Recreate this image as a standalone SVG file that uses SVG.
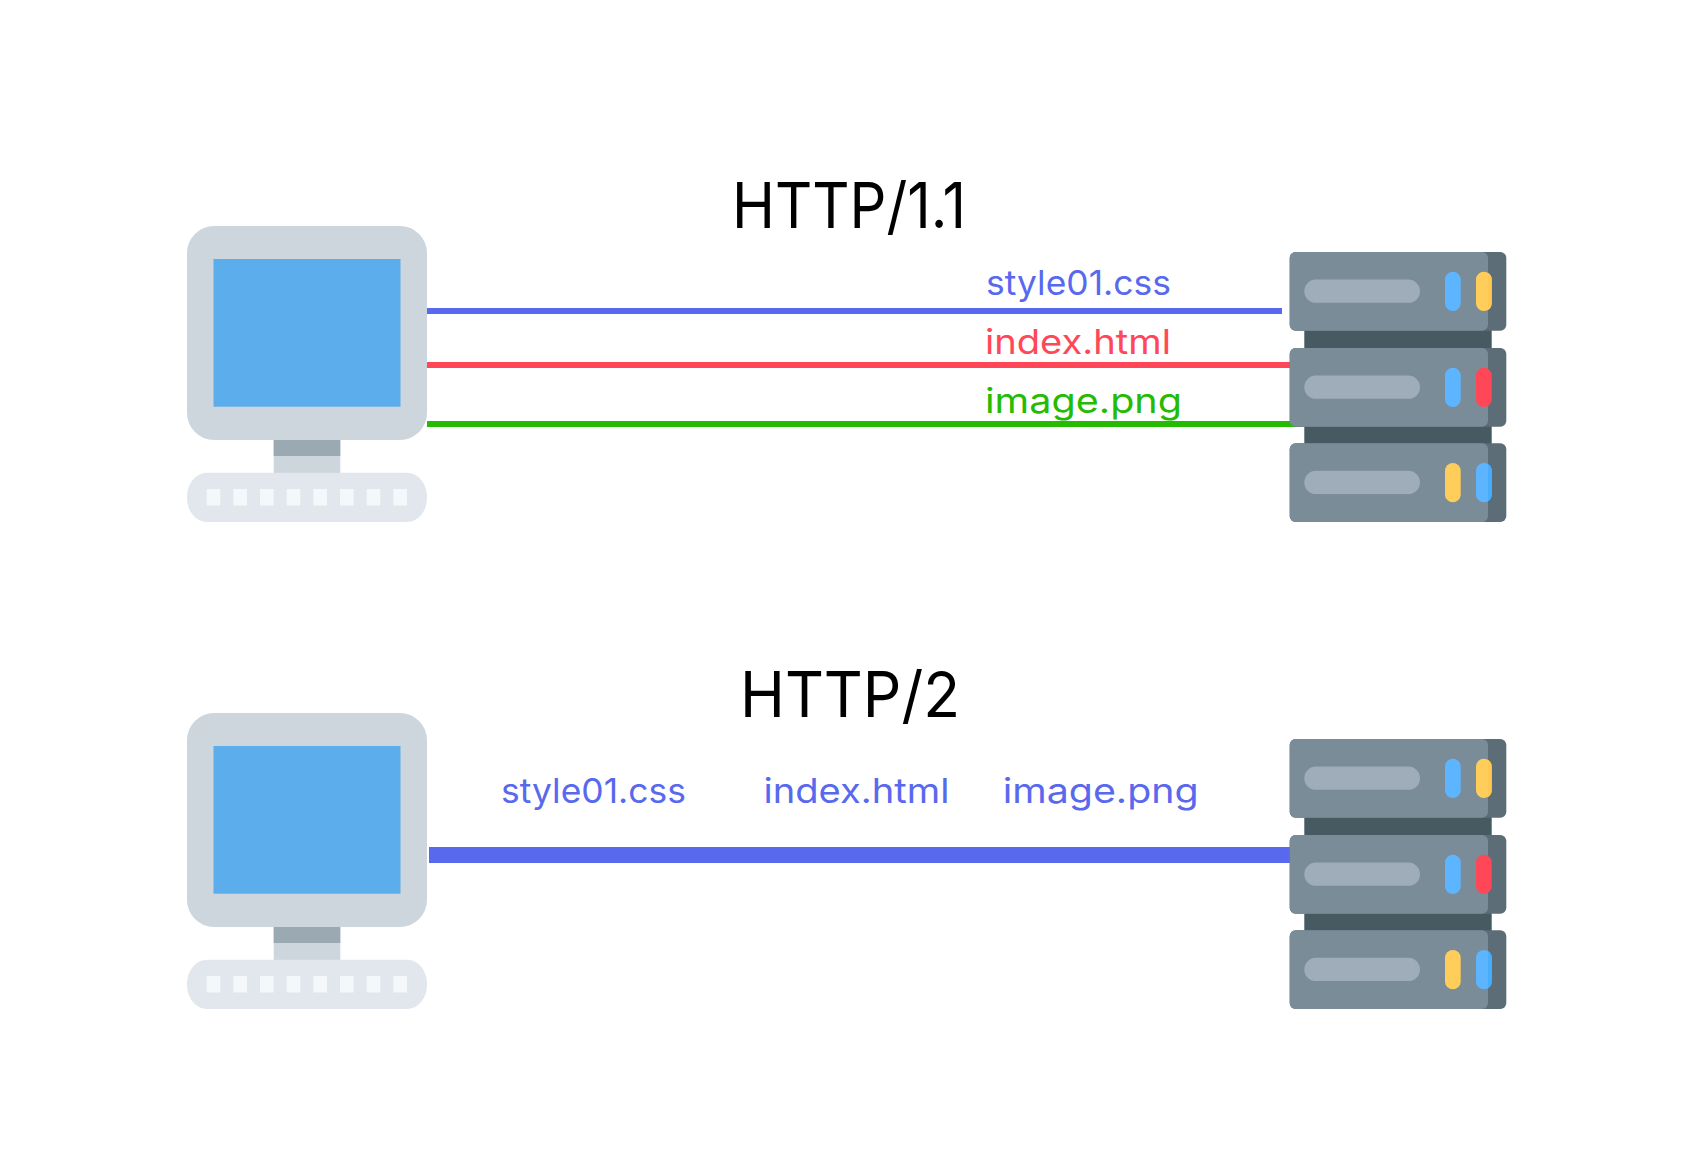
<svg xmlns="http://www.w3.org/2000/svg" xmlns:xlink="http://www.w3.org/1999/xlink" width="1701" height="1167" viewBox="0 0 1701 1167">
<style>
text{font-family:"Inter","Liberation Sans",sans-serif;font-weight:400}
.title{font-size:63px;fill:#000}
.label{font-size:34px}
.b{fill:#5969ee}.r{fill:#ff4757}.g{fill:#25bb00}
.mon{fill:#ccd6dc}.scr{fill:#5cadec}.neck{fill:#9aa9b2}.kb{fill:#e1e7ed}.key{fill:#f5f8fb}
.sv{fill:#7a8c98}.svd{fill:#5c6d77}.sp{fill:#465a61}.pill{fill:#9facba}
.lb{fill:#5eb5ff}.ly{fill:#ffcd5a}.lr{fill:#ff4757}
</style>
<defs>
<g id="pc">
<rect class="mon" x="187" y="226" width="240" height="214" rx="27" ry="27"/>
<rect class="scr" x="213.5" y="259" width="187" height="147.7"/>
<rect class="mon" x="273.7" y="440" width="66.6" height="33"/>
<rect class="neck" x="273.7" y="440" width="66.6" height="16"/>
<rect class="kb" x="187" y="472.7" width="240" height="49.3" rx="20" ry="24"/>
<rect class="key" x="206.7" y="489" width="13.6" height="16.5"/>
<rect class="key" x="233.4" y="489" width="13.6" height="16.5"/>
<rect class="key" x="260" y="489" width="13.6" height="16.5"/>
<rect class="key" x="286.7" y="489" width="13.6" height="16.5"/>
<rect class="key" x="313.4" y="489" width="13.6" height="16.5"/>
<rect class="key" x="340" y="489" width="13.6" height="16.5"/>
<rect class="key" x="366.7" y="489" width="13.6" height="16.5"/>
<rect class="key" x="393.4" y="489" width="13.6" height="16.5"/>
</g>
<g id="unit">
<rect class="svd" x="1289.7" y="0" width="216.6" height="78.7" rx="6"/>
<rect class="sv" x="1289.7" y="0" width="198.3" height="78.7" rx="6"/>
<rect class="pill" x="1304.3" y="27.5" width="115.7" height="23.3" rx="11.6"/>
</g>
<g id="server">
<rect class="sp" x="1304.3" y="325" width="187.4" height="125"/>
<use xlink:href="#unit" href="#unit" y="252"/>
<use xlink:href="#unit" href="#unit" y="348"/>
<use xlink:href="#unit" href="#unit" y="443.3"/>
<rect class="lb" x="1445" y="271.7" width="15.7" height="39.3" rx="7.85"/>
<rect class="ly" x="1476" y="271.7" width="15.7" height="39.3" rx="7.85"/>
<rect class="lb" x="1445" y="367.7" width="15.7" height="39.3" rx="7.85"/>
<rect class="lr" x="1476" y="367.7" width="15.7" height="39.3" rx="7.85"/>
<rect class="ly" x="1445" y="463" width="15.7" height="39.3" rx="7.85"/>
<rect class="lb" x="1476" y="463" width="15.7" height="39.3" rx="7.85"/>
<path d="M1488 464a7.85 7.85 0 0 1 3.7 6.85v23.6a7.85 7.85 0 0 1-3.7 6.85z" fill="#47adff"/>
<path d="M1488 272.7a7.85 7.85 0 0 1 3.7 6.85v23.6a7.85 7.85 0 0 1-3.7 6.85z" fill="#ffc850"/>
</g>
</defs>
<rect width="1701" height="1167" fill="#fff"/>
<g id="connectors">
<rect class="b" x="427" y="308" width="855" height="6"/>
<rect class="r" x="427" y="362" width="866" height="6"/>
<rect class="g" x="427" y="421" width="875" height="6"/>
<rect class="b" x="429" y="847" width="864" height="16"/>
</g>
<g id="client-1"><use xlink:href="#pc" href="#pc"/></g>
<g id="server-1"><use xlink:href="#server" href="#server"/></g>
<g id="client-2"><use xlink:href="#pc" href="#pc" y="487"/></g>
<g id="server-2"><use xlink:href="#server" href="#server" y="487"/></g>
<g id="labels">
<text class="title" x="732" y="228" textLength="234" lengthAdjust="spacingAndGlyphs">HTTP/1.1</text>
<text class="title" x="740" y="716.7" textLength="220" lengthAdjust="spacingAndGlyphs">HTTP/2</text>
<text class="label b" x="986" y="295.3" textLength="185" lengthAdjust="spacingAndGlyphs">style01.css</text>
<text class="label r" x="985" y="354" textLength="186" lengthAdjust="spacingAndGlyphs">index.html</text>
<text class="label g" x="985" y="413.3" textLength="197" lengthAdjust="spacingAndGlyphs">image.png</text>
<text class="label b" x="501" y="803.3" textLength="185" lengthAdjust="spacingAndGlyphs">style01.css</text>
<text class="label b" x="763.4" y="803.3" textLength="186" lengthAdjust="spacingAndGlyphs">index.html</text>
<text class="label b" x="1002.7" y="803.3" textLength="196" lengthAdjust="spacingAndGlyphs">image.png</text>
</g>
</svg>
